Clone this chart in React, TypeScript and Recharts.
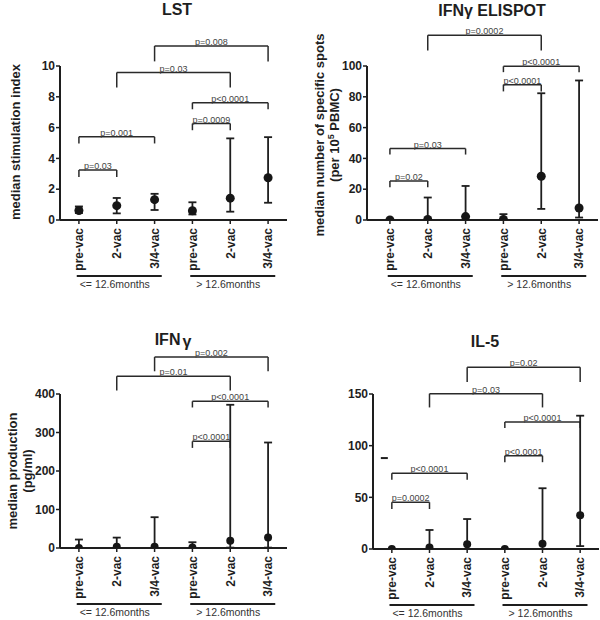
import React from 'react';
import {
  ComposedChart,
  Scatter,
  ErrorBar,
  XAxis,
  YAxis,
  ReferenceLine,
  ReferenceDot,
} from 'recharts';

// ---------- data ----------
const categoryKeys = ['a1', 'a2', 'a3', 'a4', 'a5', 'a6'];
const categoryLabels = ['pre-vac', '2-vac', '3/4-vac', 'pre-vac', '2-vac', '3/4-vac'];
const groupLabels = ['<= 12.6months', '> 12.6months'];

const lstMedian = [0.62, 0.93, 1.32, 0.6, 1.42, 2.74];
const lstMin = [0.45, 0.43, 0.65, 0.36, 0.54, 1.12];
const lstMax = [0.88, 1.43, 1.7, 1.15, 5.3, 5.38];
const lstTicks = [0, 2, 4, 6, 8, 10];

const elispotMedian = [0, 0.3, 2.2, 0.3, 28.4, 7.8];
const elispotMin = [0, 0, 0, 0, 7.2, 1.6];
const elispotMax = [0, 14.6, 22.1, 3.8, 82.3, 90.6];
const elispotTicks = [0, 20, 40, 60, 80, 100];

const ifnMedian = [0, 3, 3, 1, 19, 27];
const ifnMin = [0, 0, 0, 0, 1, 1];
const ifnMax = [22, 27, 80, 15, 372, 274];
const ifnTicks = [0, 100, 200, 300, 400];

const il5Median = [0, 1.5, 4.5, 0, 5, 32.6];
const il5Min = [0, 0, 0, 0, 0, 2.8];
const il5Max = [0, 18.4, 29, 0, 58.8, 129];
const il5Ticks = [0, 50, 100, 150];
const il5StrayMark = 88;

type Bracket = { from: string; to: string; top: number; foot: number; text: string };

const lstBrackets: Bracket[] = [
  { from: 'a1', to: 'a2', top: 3.24, foot: 2.8, text: 'p=0.03' },
  { from: 'a1', to: 'a3', top: 5.4, foot: 4.97, text: 'p=0.001' },
  { from: 'a4', to: 'a5', top: 6.26, foot: 5.83, text: 'p=0.0009' },
  { from: 'a4', to: 'a6', top: 7.62, foot: 7.19, text: 'p<0.0001' },
  { from: 'a2', to: 'a5', top: 9.57, foot: 8.6, text: 'p=0.03' },
  { from: 'a3', to: 'a6', top: 11.3, foot: 10.3, text: 'p=0.008' },
];

const elispotBrackets: Bracket[] = [
  { from: 'a1', to: 'a2', top: 25.3, foot: 21.2, text: 'p=0.02' },
  { from: 'a1', to: 'a3', top: 46.4, foot: 42.5, text: 'p=0.03' },
  { from: 'a4', to: 'a5', top: 87.9, foot: 83.5, text: 'p<0.0001' },
  { from: 'a4', to: 'a6', top: 99.8, foot: 96, text: 'p<0.0001' },
  { from: 'a2', to: 'a5', top: 119.9, foot: 110, text: 'p=0.0002' },
];

const ifnBrackets: Bracket[] = [
  { from: 'a4', to: 'a5', top: 277, foot: 260, text: 'p<0.0001' },
  { from: 'a4', to: 'a6', top: 381, foot: 365, text: 'p<0.0001' },
  { from: 'a2', to: 'a5', top: 446, foot: 409, text: 'p=0.01' },
  { from: 'a3', to: 'a6', top: 496, foot: 459, text: 'p=0.002' },
];

const il5Brackets: Bracket[] = [
  { from: 'a1', to: 'a2', top: 45.2, foot: 38.7, text: 'p=0.0002' },
  { from: 'a1', to: 'a3', top: 73.2, foot: 67, text: 'p<0.0001' },
  { from: 'a4', to: 'a5', top: 90.3, foot: 84, text: 'p<0.0001' },
  { from: 'a4', to: 'a6', top: 122.9, foot: 117, text: 'p<0.0001' },
  { from: 'a2', to: 'a5', top: 150.3, foot: 137, text: 'p=0.03' },
  { from: 'a3', to: 'a6', top: 175.8, foot: 161.6, text: 'p=0.02' },
];

// ---------- helpers ----------
const FONT = '"Liberation Sans", Arial, Helvetica, sans-serif';
const INK = '#1e1e1e';
const X_AXIS_HEIGHT = 80;

function buildRows(median: number[], min: number[], max: number[]) {
  return categoryKeys.map((k, i) => ({
    cat: k,
    median: median[i],
    err: [median[i] - min[i], max[i] - median[i]],
  }));
}

const XTick = (props: any) => {
  const { x, y, payload, index } = props;
  const i = categoryKeys.indexOf(payload.value);
  const axisY = y - 8;
  return (
    <g>
      <text
        transform={`translate(${x},${y}) rotate(-90)`}
        textAnchor="end"
        dy="0.36em"
        fontSize={12}
        fontWeight="bold"
        fill={INK}
        fontFamily={FONT}
      >
        {categoryLabels[i >= 0 ? i : index]}
      </text>
      {(i === 1 || i === 4) && (
        <g>
          <line x1={x - 40} x2={x + 45} y1={axisY + 56} y2={axisY + 56} stroke={INK} strokeWidth={2} />
          <text
            x={x - 2}
            y={axisY + 64}
            textAnchor="middle"
            dominantBaseline="central"
            fontSize={10.5}
            fill="#333"
            fontFamily={FONT}
          >
            {groupLabels[i === 1 ? 0 : 1]}
          </text>
        </g>
      )}
    </g>
  );
};

type PanelProps = {
  left: number;
  top: number;
  width: number;
  height: number;
  marginTop: number;
  marginRight: number;
  marginBottom: number;
  yAxisWidth: number;
  padLeft: number;
  median: number[];
  min: number[];
  max: number[];
  ticks: number[];
  brackets: Bracket[];
  dotR: number;
  stray?: number;
};

function Panel(p: PanelProps) {
  const rows = buildRows(p.median, p.min, p.max);
  const domainMax = p.ticks[p.ticks.length - 1];
  return (
    <div style={{ position: 'absolute', left: p.left, top: p.top }}>
      <ComposedChart
        width={p.width}
        height={p.height}
        data={rows}
        margin={{ top: p.marginTop, right: p.marginRight, left: 0, bottom: p.marginBottom }}
      >
        <XAxis
          dataKey="cat"
          type="category"
          scale="band"
          interval={0}
          height={X_AXIS_HEIGHT}
          padding={{ left: p.padLeft, right: 0 }}
          axisLine={{ stroke: INK, strokeWidth: 2 }}
          tickLine={{ stroke: INK, strokeWidth: 1.5 }}
          tickSize={4}
          tickMargin={4}
          tick={<XTick />}
        />
        <YAxis
          type="number"
          domain={[0, domainMax]}
          ticks={p.ticks}
          allowDataOverflow
          width={p.yAxisWidth}
          axisLine={{ stroke: INK, strokeWidth: 2 }}
          tickLine={{ stroke: INK, strokeWidth: 1.5 }}
          tickSize={4}
          tickMargin={1}
          tick={{ fontSize: 12, fontWeight: 'bold', fill: INK, fontFamily: FONT }}
        />
        {p.brackets.map((b, i) => (
          <React.Fragment key={`b${i}`}>
            <ReferenceLine
              segment={[{ x: b.from, y: b.top }, { x: b.to, y: b.top }]}
              ifOverflow="visible"
              stroke="#2a2a2a"
              strokeWidth={1.5}
              label={{ value: b.text, position: 'top', offset: 1, fontSize: 9, fill: '#444', fontFamily: FONT }}
            />
            <ReferenceLine
              segment={[{ x: b.from, y: b.top }, { x: b.from, y: b.foot }]}
              ifOverflow="visible"
              stroke="#2a2a2a"
              strokeWidth={1.5}
            />
            <ReferenceLine
              segment={[{ x: b.to, y: b.top }, { x: b.to, y: b.foot }]}
              ifOverflow="visible"
              stroke="#2a2a2a"
              strokeWidth={1.5}
            />
          </React.Fragment>
        ))}
        {p.stray !== undefined && (
          <ReferenceDot
            x="a1"
            y={p.stray}
            ifOverflow="visible"
            shape={(s: any) => (
              <line x1={s.cx - 11} x2={s.cx - 4} y1={s.cy} y2={s.cy} stroke={INK} strokeWidth={2} />
            )}
          />
        )}
        <Scatter
          dataKey="median"
          isAnimationActive={false}
          fill={INK}
          shape={(s: any) => <circle cx={s.cx} cy={s.cy} r={p.dotR} fill="#161616" />}
        >
          <ErrorBar dataKey="err" direction="y" width={4} stroke={INK} strokeWidth={1.8} />
        </Scatter>
      </ComposedChart>
    </div>
  );
}

const rotLabel = (cx: number, cy: number): React.CSSProperties => ({
  position: 'absolute',
  left: cx,
  top: cy,
  transform: 'translate(-50%, -50%) rotate(-90deg)',
  whiteSpace: 'nowrap',
  textAlign: 'center',
  fontFamily: FONT,
  fontWeight: 'bold',
  fontSize: 13,
  lineHeight: '15px',
  color: INK,
});

const titleStyle = (cx: number, cy: number): React.CSSProperties => ({
  position: 'absolute',
  left: cx,
  top: cy,
  transform: 'translate(-50%, -50%)',
  whiteSpace: 'nowrap',
  fontFamily: FONT,
  fontWeight: 'bold',
  fontSize: 16,
  color: INK,
});

export default function App() {
  return (
    <div
      style={{
        position: 'absolute',
        left: 0,
        top: 0,
        width: 600,
        height: 620,
        overflow: 'hidden',
        background: '#fff',
        fontFamily: FONT,
      }}
    >
      <Panel
        left={0}
        top={0}
        width={300}
        height={310}
        marginTop={66}
        marginRight={13}
        marginBottom={10}
        yAxisWidth={60}
        padLeft={0}
        median={lstMedian}
        min={lstMin}
        max={lstMax}
        ticks={lstTicks}
        brackets={lstBrackets}
        dotR={4.5}
      />
      <Panel
        left={300}
        top={0}
        width={300}
        height={310}
        marginTop={66}
        marginRight={2}
        marginBottom={10}
        yAxisWidth={67}
        padLeft={4}
        median={elispotMedian}
        min={elispotMin}
        max={elispotMax}
        ticks={elispotTicks}
        brackets={elispotBrackets}
        dotR={4.5}
      />
      <Panel
        left={0}
        top={300}
        width={300}
        height={320}
        marginTop={94}
        marginRight={13}
        marginBottom={-8}
        yAxisWidth={60}
        padLeft={0}
        median={ifnMedian}
        min={ifnMin}
        max={ifnMax}
        ticks={ifnTicks}
        brackets={ifnBrackets}
        dotR={4}
      />
      <Panel
        left={300}
        top={300}
        width={300}
        height={320}
        marginTop={94}
        marginRight={1}
        marginBottom={-9}
        yAxisWidth={73}
        padLeft={0}
        median={il5Median}
        min={il5Min}
        max={il5Max}
        ticks={il5Ticks}
        brackets={il5Brackets}
        dotR={4}
        stray={il5StrayMark}
      />

      <div style={titleStyle(177, 10)}>LST</div>
      <div style={titleStyle(492, 11)}>IFNγ ELISPOT</div>
      <div style={titleStyle(173, 340)}>
        IFN<span style={{ marginLeft: 2, position: 'relative', top: 2 }}>γ</span>
      </div>
      <div style={titleStyle(485, 342)}>IL-5</div>

      <div style={rotLabel(15, 142)}>median stimulation index</div>
      <div style={rotLabel(327, 135)}>
        median number of specific spots
        <br />
        (per 10<sup style={{ fontSize: 9, lineHeight: 0 }}>5</sup> PBMC)
      </div>
      <div style={rotLabel(20, 471)}>
        median production
        <br />
        (pg/ml)
      </div>
    </div>
  );
}
